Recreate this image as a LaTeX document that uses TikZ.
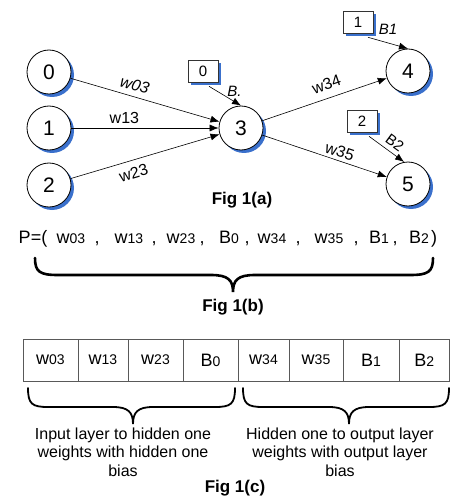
\documentclass[tikz,border=0pt]{standalone}
\usepackage{fontspec}
\setmainfont{Liberation Sans}
\usetikzlibrary{arrows.meta,shadows,calc}
\definecolor{shblue}{RGB}{58,112,204}
\newcommand\sd[1]{{\fontsize{14}{14}\selectfont #1}}
\begin{document}
\begin{tikzpicture}[x=1pt,y=-1pt,
  neuron/.style={circle,draw,line width=0.8pt,fill=white,minimum size=44pt,inner sep=0pt,
    font=\fontsize{21}{21}\selectfont,
    drop shadow={shadow xshift=3pt,shadow yshift=-3pt,fill=shblue,opacity=1}},
  biasbox/.style={rectangle,draw=black!80,line width=0.6pt,fill=white,minimum width=30pt,
    minimum height=22pt,inner sep=0pt,font=\fontsize{15}{15}\selectfont,
    drop shadow={shadow xshift=3pt,shadow yshift=-3pt,fill=shblue,opacity=1}},
  arr/.style={-{Latex[length=9pt,width=7pt]},line width=0.6pt},
  elab/.style={font=\fontsize{16}{16}\selectfont,inner sep=1.5pt},
  blab/.style={font=\itshape\fontsize{15}{15}\selectfont,inner sep=1.5pt},
  figlab/.style={font=\bfseries\fontsize{17}{17}\selectfont},
  cell/.style={rectangle,draw=black!65,line width=0.6pt,minimum height=42pt,inner sep=0pt,
    font=\fontsize{18}{18}\selectfont},
  ptxt/.style={font=\fontsize{18}{18}\selectfont,anchor=base,inner sep=0pt},
  bigbrace/.style={line width=2.6pt,line cap=round},
  smallbrace/.style={line width=1.8pt,line cap=round},
  desc/.style={align=center,font=\fontsize{16}{18.5}\selectfont}
]
\useasboundingbox (0,0) rectangle (450,497);

% --- Fig 1(a) ---
\node[neuron] (n0) at (49,72) {0};
\node[neuron] (n1) at (49,128) {1};
\node[neuron] (n2) at (49,185) {2};
\node[neuron] (n3) at (241,128) {3};
\node[neuron] (n4) at (408,71) {4};
\node[neuron] (n5) at (408,184) {5};

\node[biasbox] (b0) at (203,71) {0};
\node[biasbox] (b1) at (358,22) {1};
\node[biasbox] (b2) at (362,121) {2};

\draw[arr] (n0) -- (n3) node[elab,pos=0.41,sloped,above=4pt,font=\itshape\fontsize{16}{16}\selectfont] {w03};
\draw[arr] (n1) -- (n3) node[elab,pos=0.36,above=2.5pt] {w13};
\draw[arr] (n2) -- (n3) node[elab,pos=0.4,sloped,below=5pt] {w23};
\draw[arr] (n3) -- (n4) node[elab,pos=0.55,sloped,above=6pt] {w34};
\draw[arr] (n3) -- (n5) node[elab,pos=0.6,sloped,above=1.5pt] {w35};

\draw[arr] ($(b0.south)+(6,4)$) -- (n3.north) node[blab,pos=0.55,above right,inner sep=0.5pt] {B.};
\draw[arr] ($(b1.south)+(10,4)$) -- (n4.north) node[blab,pos=0.5,above,yshift=7pt] {B1};
\draw[arr] ($(b2.south)+(7,4)$) -- (n5.100) node[blab,pos=0.5,sloped,above=3pt,xshift=3pt,font=\fontsize{15}{15}\selectfont] {B2};

\node[figlab] (fa) at (242,200) {Fig 1(a)};

% --- Fig 1(b) ---
\node[ptxt] (pP) at (33,243) {P=(};
\node[ptxt] (p1) at (71,243) {w\sd{03}};
\node[ptxt] (c1) at (97,243) {,};
\node[ptxt] (p2) at (129,243) {w\sd{13}};
\node[ptxt] (c2) at (154,243) {,};
\node[ptxt] (p3) at (181,243) {w\sd{23}};
\node[ptxt] (c3) at (202,243) {,};
\node[ptxt] (p4) at (229,243) {B\sd{0}};
\node[ptxt] (c4) at (247,243) {,};
\node[ptxt] (p5) at (272,243) {w\sd{34}};
\node[ptxt] (c5) at (298,243) {,};
\node[ptxt] (p6) at (329,243) {w\sd{35}};
\node[ptxt] (c6) at (356,243) {,};
\node[ptxt] (p7) at (379,243) {B\sd{1}};
\node[ptxt] (c7) at (395,243) {,};
\node[ptxt] (p8) at (419,243) {B\sd{2}};
\node[ptxt] (pr) at (434,243) {)};

\draw[bigbrace] (35,258) .. controls (35,272) and (40,275) .. (58,275) -- (211,275)
  .. controls (228,275) and (233,280) .. (233,292)
  .. controls (233,280) and (238,275) .. (255,275) -- (410,275)
  .. controls (428,275) and (433,272) .. (433,258);

\node[figlab] (fb) at (233,307) {Fig 1(b)};

% --- Fig 1(c) ---
\node[cell,minimum width=55pt] (t1) at (50.5,360) {w\sd{03}};
\node[cell,minimum width=50pt] (t2) at (103,360) {w\sd{13}};
\node[cell,minimum width=55pt] (t3) at (155.5,360) {w\sd{23}};
\node[cell,minimum width=55pt] (t4) at (210.5,360) {B\sd{0}};
\node[cell,minimum width=51pt] (t5) at (263.5,360) {w\sd{34}};
\node[cell,minimum width=54pt] (t6) at (316,360) {w\sd{35}};
\node[cell,minimum width=56pt] (t7) at (371,360) {B\sd{1}};
\node[cell,minimum width=50.5pt] (t8) at (424.25,360) {B\sd{2}};

\draw[smallbrace] (28,388) .. controls (28,404) and (32,407) .. (48,407) -- (113,407)
  .. controls (128,407) and (133,412) .. (133,424)
  .. controls (133,412) and (138,407) .. (153,407) -- (215,407)
  .. controls (231,407) and (235,404) .. (235,388);
\draw[smallbrace] (243,388) .. controls (243,404) and (247,407) .. (263,407) -- (329,407)
  .. controls (344,407) and (349,412) .. (349,424)
  .. controls (349,412) and (354,407) .. (369,407) -- (429,407)
  .. controls (445,407) and (449,404) .. (449,388);

\node[desc] (d1) at (123,452) {Input layer to hidden one\\weights with hidden one\\bias};
\node[desc] (d2) at (340,452) {Hidden one to output layer\\weights with output layer\\bias};

\node[figlab] (fc) at (235,488) {Fig 1(c)};
\end{tikzpicture}
\end{document}
